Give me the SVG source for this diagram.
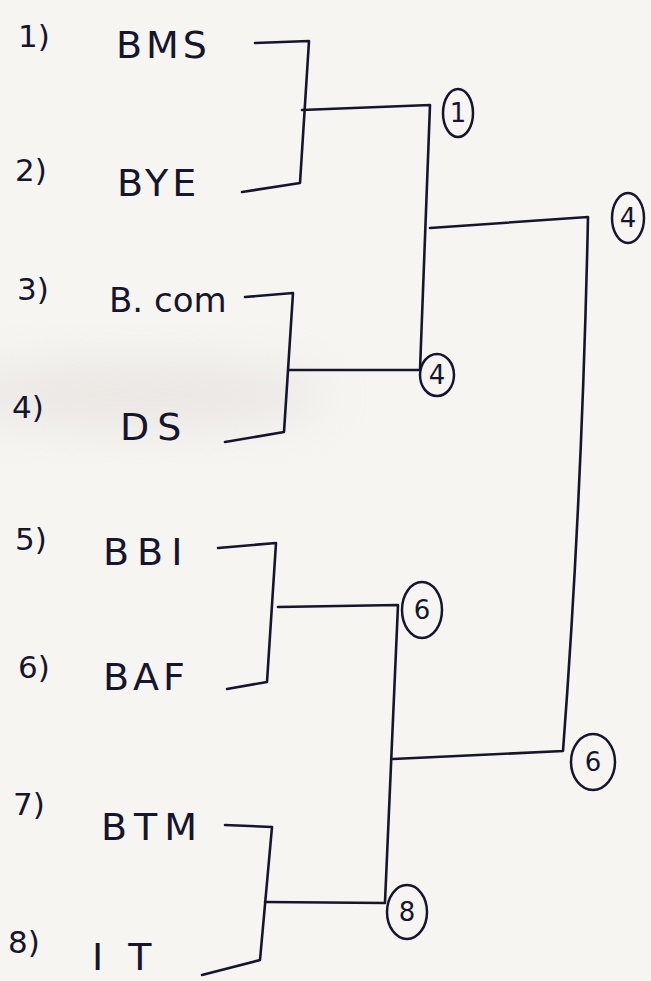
<svg xmlns="http://www.w3.org/2000/svg" width="651" height="981" viewBox="0 0 651 981">
<style>
.num{font-family:"DejaVu Sans","Liberation Sans",sans-serif;font-size:31px;fill:#15152e;}
.team{font-family:"DejaVu Sans","Liberation Sans",sans-serif;font-size:38px;fill:#15152e;letter-spacing:4px;}
.ring{fill:none;stroke:#15152e;stroke-width:2.5;}
.rn{font-family:"DejaVu Sans","Liberation Sans",sans-serif;font-size:26px;fill:#15152e;text-anchor:middle;}
.ln{fill:none;stroke:#15152e;stroke-width:2.6;stroke-linecap:round;stroke-linejoin:round;}
</style>
<defs>
<filter id="blur" x="-50%" y="-50%" width="200%" height="200%"><feGaussianBlur stdDeviation="25"/></filter>
</defs>
<rect width="651" height="981" fill="#f7f5f2"/>
<ellipse cx="140" cy="395" rx="190" ry="35" fill="#d6d1cd" opacity="0.4" filter="url(#blur)"/>
<g id="team1"><text class="num" x="18" y="47">1)</text><text class="team" x="116" y="58">BMS</text></g>
<g id="team2"><text class="num" x="15" y="181">2)</text><text class="team" x="117" y="196">BYE</text></g>
<g id="team3"><text class="num" x="17" y="300">3)</text><text class="team" x="109" y="312" style="font-size:34px;letter-spacing:0px">B. com</text></g>
<g id="team4"><text class="num" x="12" y="418">4)</text><text class="team" x="120" y="440" style="letter-spacing:8px">DS</text></g>
<g id="team5"><text class="num" x="15" y="550">5)</text><text class="team" x="103" y="565" style="letter-spacing:8px">BBI</text></g>
<g id="team6"><text class="num" x="18" y="678">6)</text><text class="team" x="103" y="690">BAF</text></g>
<g id="team7"><text class="num" x="13" y="815">7)</text><text class="team" x="101" y="840" style="letter-spacing:7px">BTM</text></g>
<g id="team8"><text class="num" x="8" y="953">8)</text><text class="team" x="92" y="970" style="letter-spacing:25px">IT</text></g>
<g id="r1"><ellipse class="ring" cx="458" cy="113" rx="15" ry="24"/><text class="rn" x="458" y="122">1</text></g>
<g id="r2"><ellipse class="ring" cx="437" cy="375" rx="17" ry="21"/><text class="rn" x="437" y="384">4</text></g>
<g id="r3"><ellipse class="ring" cx="422" cy="610" rx="20" ry="28"/><text class="rn" x="422" y="619">6</text></g>
<g id="r4"><ellipse class="ring" cx="407" cy="912" rx="20" ry="27"/><text class="rn" x="407" y="921">8</text></g>
<g id="r5"><ellipse class="ring" cx="628" cy="218" rx="16" ry="25"/><text class="rn" x="628" y="227">4</text></g>
<g id="r6"><ellipse class="ring" cx="593" cy="762" rx="22" ry="28"/><text class="rn" x="593" y="771">6</text></g>
<g id="connectors">
<path class="ln" d="M255 43 L309 41 L300 183 L242 192"/>
<path class="ln" d="M302 110 L430 105 L420 370"/>
<path class="ln" d="M245 297 L293 293 L284 432 L225 442"/>
<path class="ln" d="M289 370 L420 370"/>
<path class="ln" d="M430 228 L588 217 Q582 500 563 751 L393 759"/>
<path class="ln" d="M218 548 L276 543 L267 682 L227 689"/>
<path class="ln" d="M278 607 L398 605 L385 902"/>
<path class="ln" d="M225 825 L272 827 L260 960 L202 975"/>
<path class="ln" d="M265 902 L385 903"/>
</g>
</svg>
